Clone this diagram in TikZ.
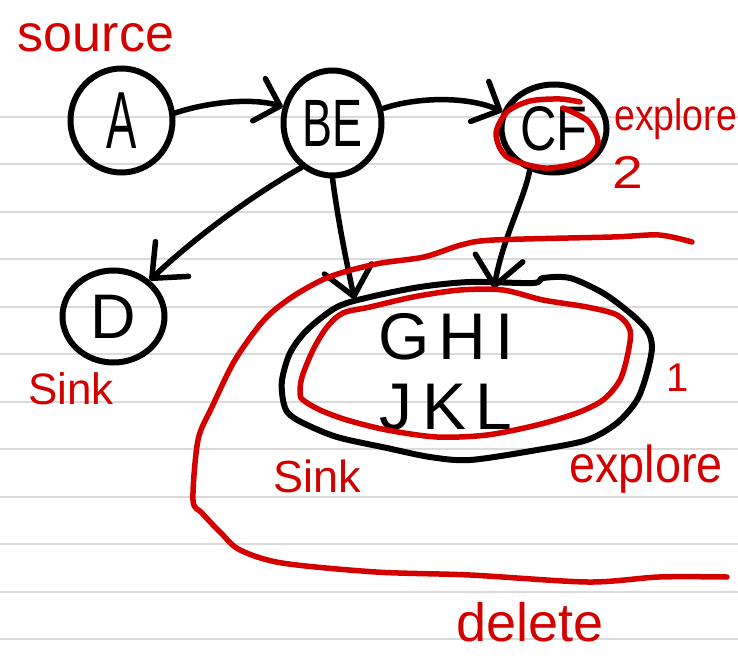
\documentclass[tikz,border=0pt]{standalone}
\usepackage{fontspec}
\setmainfont{Liberation Sans}
\usepackage{graphicx}
\usetikzlibrary{shapes.geometric,arrows.meta}
\definecolor{pen}{RGB}{212,0,0}
\definecolor{ruling}{RGB}{218,218,218}
% text at a given size, squeezed horizontally
\newcommand{\sizedtext}[3]{\scalebox{#2}[1]{\fontsize{#1}{#1}\selectfont #3}}

\begin{document}
\begin{tikzpicture}[x=1pt,y=-1pt,
  circ/.style={ellipse, draw, line width=6pt, inner sep=0pt},
  blackpen/.style={draw, line width=6pt, line cap=round, line join=round},
  edge/.style={line width=5.5pt, line cap=round, line join=round,
    -{Straight Barb[length=28pt,width=48pt,round]}},
  shortedge/.style={edge, -{Straight Barb[length=22pt,width=44pt,round]}},
  note/.style={text=pen, inner sep=0pt},
  redpen/.style={draw=pen, line width=5.5pt, line cap=round, line join=round}]

\useasboundingbox (0,0) rectangle (738,658);
\fill[white] (0,0) rectangle (738,658);
\clip (0,0) rectangle (738,658);

% ruled paper
\foreach \k in {0,...,11}
  \draw[ruling, line width=2pt] (0,{117+47.45*\k}) -- (738,{117+47.45*\k});

% graph nodes
\node[circ, minimum width=102pt, minimum height=104pt] (A)  at (121.5,120.5) {\sizedtext{81}{0.56}{A}};
\node[circ, minimum width=98pt,  minimum height=105pt] (BE) at (332.5,123)   {\sizedtext{67}{0.67}{BE}};
\node[circ, minimum width=105pt, minimum height=88pt]  (CF) at (554,128.5)   {\sizedtext{63}{0.8}{CF}};
\node[circ, minimum width=102pt, minimum height=92pt]  (D)  at (113.5,316.5) {\sizedtext{63}{1}{D}};
% merged node: anchors from an ellipse, outline drawn freehand
\node[ellipse, inner sep=0pt, minimum width=367pt, minimum height=182pt] (G) at (466,371.5) {};
\draw[blackpen] plot[smooth cycle] coordinates {(283,400) (282,380) (290,353) (307,330) (337,307) (370,297) (420,287) (470,282) (533,283) (543,278) (570,278) (603,293) (630,313) (647,330) (652,347) (647,373) (637,400) (617,423) (587,440) (537,450) (470,460) (430,457) (387,448) (337,437) (303,423) (288,413)};
\node[align=center, inner sep=0pt,
      font=\fontsize{66}{70}\selectfont\addfontfeature{LetterSpace=14}] (Gtext) at (446,372) {GHI\\JKL};

% connectors
\draw[shortedge] (A.8) .. controls (205,103) and (250,97) .. (BE.162);
\draw[shortedge] (BE.16) .. controls (420,96) and (470,97) .. (CF.162);
\draw[edge] (BE.235) .. controls (248,198) and (192,240) .. (D.45);
\draw[edge] (BE.south) .. controls (338,220) and (346,260) .. (G.147);
\draw[edge, shorten >=-7pt] (CF.240) .. controls (524,200) and (502,240) .. (G.72);

% red annotations
\draw[redpen] plot[smooth] coordinates {(563,108) (588,121) (598,143) (583,161) (545,168) (507,157) (496,134) (507,112) (530,101) (560,99) (580,102)};
\draw[redpen] plot[smooth cycle] coordinates {(300,393) (302,377) (313,350) (327,327) (343,313) (370,307) (413,297) (460,290) (503,290) (543,300) (587,307) (617,315) (630,330) (628,353) (620,380) (603,400) (577,413) (537,425) (487,435) (437,437) (387,430) (347,420) (320,410) (303,400)};
\draw[redpen] plot[smooth] coordinates {(692,242) (659,235) (612,237) (494,240) (461,245) (424,257) (376,264) (329,277) (292,297) (264,320) (235,360) (212,407) (198,440) (193,500) (202,513) (221,533) (240,550) (282,563) (376,572) (470,575) (588,582) (659,577) (727,577)};

\node[note] (src) at (96,38) {\fontsize{52}{52}\selectfont source};
\node[note, anchor=base west] (ex1) at (614,131) {\sizedtext{44}{0.85}{explore}};
\node[note, anchor=base west] (two) at (612,188) {\sizedtext{46}{1.2}{2}};
\node[note, anchor=base west] (sk1) at (28,404) {\fontsize{44}{44}\selectfont Sink};
\node[note] (one) at (678,378) {\fontsize{40}{40}\selectfont 1};
\node[note, anchor=base west] (sk2) at (273,492) {\fontsize{45}{45}\selectfont Sink};
\node[note, anchor=base west] (ex2) at (569,482) {\sizedtext{52}{0.9}{explore}};
\node[note, anchor=base west] (del) at (456,641) {\fontsize{54}{54}\selectfont delete};
\end{tikzpicture}
\end{document}
